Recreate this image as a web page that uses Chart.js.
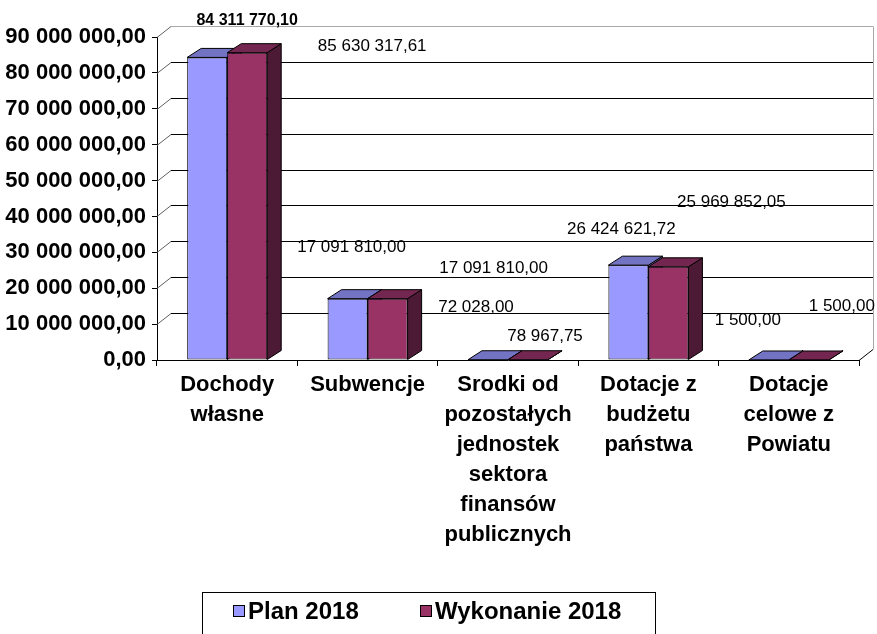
<!DOCTYPE html>
<html>
<head>
<meta charset="utf-8">
<script src="https://cdn.jsdelivr.net/npm/chart.js@4"></script>
<style>
  html, body { margin: 0; padding: 0; background: #fff; }
  canvas { display: block; }
</style>
</head>
<body>
<canvas id="chart" width="877" height="634"></canvas>
<script>
const categories = [
    ["Dochody", "własne"],
    ["Subwencje"],
    ["Srodki od", "pozostałych", "jednostek", "sektora", "finansów", "publicznych"],
    ["Dotacje z", "budżetu", "państwa"],
    ["Dotacje", "celowe z", "Powiatu"]
];
const seriesNames = ["Plan 2018", "Wykonanie 2018"];
const planValues = [84311770.10, 17091810.00, 72028.00, 26424621.72, 1500.00];
const wykonanieValues = [85630317.61, 17091810.00, 78967.75, 25969852.05, 1500.00];
const yMax = 90000000;
const yStep = 10000000;

// where Excel left the value labels: shift from the top-front centre of each bar
const planLabelShift = [[40, -37], [4, -51], [-12, -52], [-7, -36], [-21, -40]];
const wykLabelShift = [[125, -6], [106, -30], [17, -23], [63, -64], [33, -54]];

const FONT = '"Liberation Sans", Arial, sans-serif';
const BAR_DX = 14, BAR_DY = -9;     // depth of the bars
const WALL_DX = 14, WALL_DY = -11;  // back wall offset

function fmt(v) {
    const parts = v.toFixed(2).split(".");
    return parts[0].replace(/\B(?=(\d{3})+(?!\d))/g, " ") + "," + parts[1];
}

function poly(ctx, pts) {
    ctx.beginPath();
    ctx.moveTo(pts[0][0], pts[0][1]);
    for (let k = 1; k < pts.length; k++) ctx.lineTo(pts[k][0], pts[k][1]);
    ctx.closePath();
    ctx.fill();
    ctx.stroke();
}

// back wall, floor edge and the top / side faces of the bars
const threeD = {
    id: "threeD",
    beforeDatasetsDraw(chart) {
        const ctx = chart.ctx, area = chart.chartArea, y = chart.scales.y;
        ctx.save();
        ctx.lineWidth = 1;
        for (let v = yStep; v <= yMax; v += yStep) {
            const py = Math.round(y.getPixelForValue(v)) + 0.5;
            ctx.strokeStyle = "#606060";
            ctx.beginPath();
            ctx.moveTo(area.left, py);
            ctx.lineTo(area.left + WALL_DX, py + WALL_DY);
            ctx.stroke();
            ctx.strokeStyle = v === yMax ? "#a8a8a8" : "#000";
            ctx.beginPath();
            ctx.moveTo(area.left + WALL_DX, py + WALL_DY);
            ctx.lineTo(area.right + WALL_DX, py + WALL_DY);
            ctx.stroke();
        }
        const top = Math.round(y.getPixelForValue(yMax)) + 0.5;
        const bottom = Math.round(y.getPixelForValue(0)) + 0.5;
        ctx.strokeStyle = "#a8a8a8";
        ctx.beginPath();
        ctx.moveTo(area.right + WALL_DX + 0.5, top + WALL_DY);
        ctx.lineTo(area.right + WALL_DX + 0.5, bottom + WALL_DY);
        ctx.stroke();
        ctx.strokeStyle = "#000";
        ctx.beginPath();
        ctx.moveTo(area.right, bottom);
        ctx.lineTo(area.right + WALL_DX, bottom + WALL_DY);
        ctx.stroke();

        ctx.strokeStyle = "#000";
        for (let j = 0; j < categories.length; j++) {
            chart.data.datasets.forEach((ds, i) => {
                const bar = chart.getDatasetMeta(i).data[j];
                const l = bar.x - bar.width / 2, r = bar.x + bar.width / 2;
                const t = bar.y, b = bar.base;
                ctx.fillStyle = ds.sideColor;
                poly(ctx, [[r, t], [r + BAR_DX, t + BAR_DY], [r + BAR_DX, b + BAR_DY], [r, b]]);
                ctx.fillStyle = ds.topColor;
                poly(ctx, [[l, t], [l + BAR_DX, t + BAR_DY], [r + BAR_DX, t + BAR_DY], [r, t]]);
            });
        }
        ctx.restore();
    },
    afterDatasetsDraw(chart) {
        const ctx = chart.ctx;
        const shifts = [planLabelShift, wykLabelShift];
        ctx.save();
        ctx.fillStyle = "#000";
        ctx.textAlign = "center";
        ctx.textBaseline = "middle";
        chart.data.datasets.forEach((ds, i) => {
            chart.getDatasetMeta(i).data.forEach((bar, j) => {
                // the first label in the original is bold
                ctx.font = (i === 0 && j === 0 ? "bold 16px " : "17px ") + FONT;
                ctx.fillText(fmt(ds.data[j]), bar.x + shifts[i][j][0], bar.y + shifts[i][j][1]);
            });
        });
        ctx.restore();
    },
    afterDraw(chart) {
        const ctx = chart.ctx;
        ctx.save();
        ctx.strokeStyle = "#000";
        ctx.lineWidth = 1;
        ctx.strokeRect(202.5, 592.5, 453, 60);
        const boxX = [233, 420];
        ctx.font = "bold 24px " + FONT;
        ctx.textBaseline = "middle";
        chart.data.datasets.forEach((ds, i) => {
            ctx.fillStyle = ds.backgroundColor;
            ctx.fillRect(boxX[i] + 0.5, 605.5, 11, 11);
            ctx.strokeRect(boxX[i] + 0.5, 605.5, 11, 11);
            ctx.fillStyle = "#000";
            ctx.fillText(ds.label, boxX[i] + 15, 612);
        });
        ctx.restore();
    }
};

new Chart(document.getElementById("chart"), {
    type: "bar",
    data: {
        labels: categories,
        datasets: [
            {
                label: seriesNames[0],
                data: planValues,
                backgroundColor: "#9999ff",
                topColor: "#7373c4",
                sideColor: "#6666aa",
                borderColor: "#000",
                borderWidth: 1,
                borderSkipped: false
            },
            {
                label: seriesNames[1],
                data: wykonanieValues,
                backgroundColor: "#993366",
                topColor: "#73264f",
                sideColor: "#4d1a35",
                borderColor: "#000",
                borderWidth: 1,
                borderSkipped: false
            }
        ]
    },
    options: {
        responsive: false,
        animation: false,
        devicePixelRatio: 1,
        layout: { padding: { top: 37, right: 18, bottom: 0, left: 0 } },
        datasets: { bar: { categoryPercentage: 0.57, barPercentage: 1.0 } },
        plugins: { legend: { display: false }, tooltip: { enabled: false } },
        scales: {
            x: {
                grid: { drawOnChartArea: false, drawTicks: true, tickLength: 6, color: "#000", offset: true },
                border: { display: true, color: "#000" },
                ticks: {
                    color: "#000",
                    padding: 4,
                    maxRotation: 0,
                    autoSkip: false,
                    font: { family: FONT, size: 22, weight: "bold", lineHeight: 1.36 }
                },
                afterFit(scale) { scale.height = 274; }
            },
            y: {
                min: 0,
                max: yMax,
                grid: { drawOnChartArea: false, drawTicks: true, tickLength: 5, color: "#000" },
                border: { display: true, color: "#000" },
                ticks: {
                    stepSize: yStep,
                    color: "#000",
                    padding: 6,
                    font: { family: FONT, size: 22, weight: "bold" },
                    callback: v => fmt(v)
                },
                afterFit(scale) { scale.width = 157; }
            }
        }
    },
    plugins: [threeD]
});
</script>
</body>
</html>
